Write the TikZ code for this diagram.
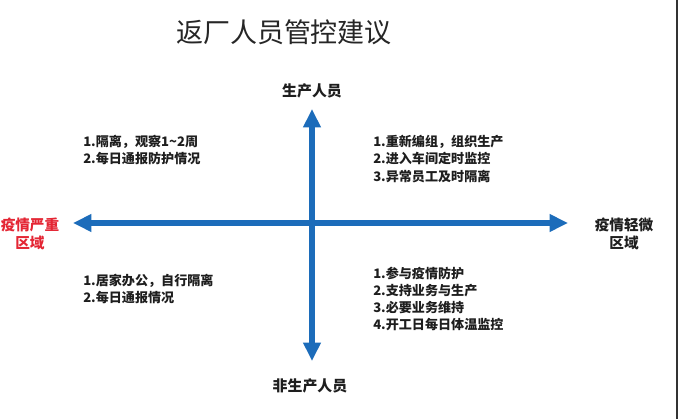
\documentclass[tikz,border=0pt]{standalone}
\usepackage{fontspec}
\newfontfamily\cjk{Noto Sans CJK SC}
\usetikzlibrary{arrows.meta}

\definecolor{axisblue}{RGB}{28,108,186}
\definecolor{alertred}{RGB}{228,38,52}
\definecolor{inkgray}{RGB}{30,30,30}

\tikzset{
    axis/.style={line width=3.6pt, axisblue,
        {Triangle[length=0.46cm,width=0.42cm]}-{Triangle[length=0.46cm,width=0.42cm]}},
    tasklist/.style={anchor=west, align=left, inner sep=0pt, text=inkgray,
        font=\cjk\bfseries\fontsize{9.3}{12.2}\selectfont},
    axislabel/.style={inner sep=0pt, text=inkgray, align=center,
        font=\cjk\bfseries\fontsize{10.6}{13}\selectfont},
    zonelabel/.style={inner sep=0pt, align=center,
        font=\cjk\bfseries\fontsize{10.4}{12.8}\selectfont},
}

\begin{document}
\begin{tikzpicture}[x={(0.025cm,0)}, y={(0,-0.025cm)}]

% canvas in pixel units, y pointing down
\useasboundingbox[fill=white] (0,0) rectangle (680,419);

% right edge of the slide
\draw[line width=1.2pt, black!80] (677,0) -- (677,419);

% title
\node[inner sep=0pt, text=black!85, font=\cjk\fontsize{19.2}{22}\selectfont]
    (title) at (284,32) {返厂人员管控建议};

% axis ends
\coordinate (top) at (312,109);
\coordinate (bottom) at (312,361);
\coordinate (left) at (73,223);
\coordinate (right) at (568,223);

% axes
\draw[axis] (left) -- (right);
\draw[axis] (bottom) -- (top);

% axis labels
\node[axislabel] (staff) at (312,91) {生产人员};
\node[axislabel] (nonstaff) at (310,386) {非生产人员};
\node[zonelabel, text=alertred] (severe) at (30,234) {疫情严重\\区域};
\node[zonelabel, text=inkgray] (mild) at (624,234) {疫情轻微\\区域};

% quadrant notes
\node[tasklist] (severestaff) at (83,150)
    {1.隔离，观察1\textasciitilde2周\\2.每日通报防护情况};
\node[tasklist] (mildstaff) at (373,159)
    {1.重新编组，组织生产\\2.进入车间定时监控\\3.异常员工及时隔离};
\node[tasklist] (severeother) at (83,289)
    {1.居家办公，自行隔离\\2.每日通报情况};
\node[tasklist] (mildother) at (373,299)
    {1.参与疫情防护\\2.支持业务与生产\\3.必要业务维持\\4.开工日每日体温监控};

\end{tikzpicture}
\end{document}
